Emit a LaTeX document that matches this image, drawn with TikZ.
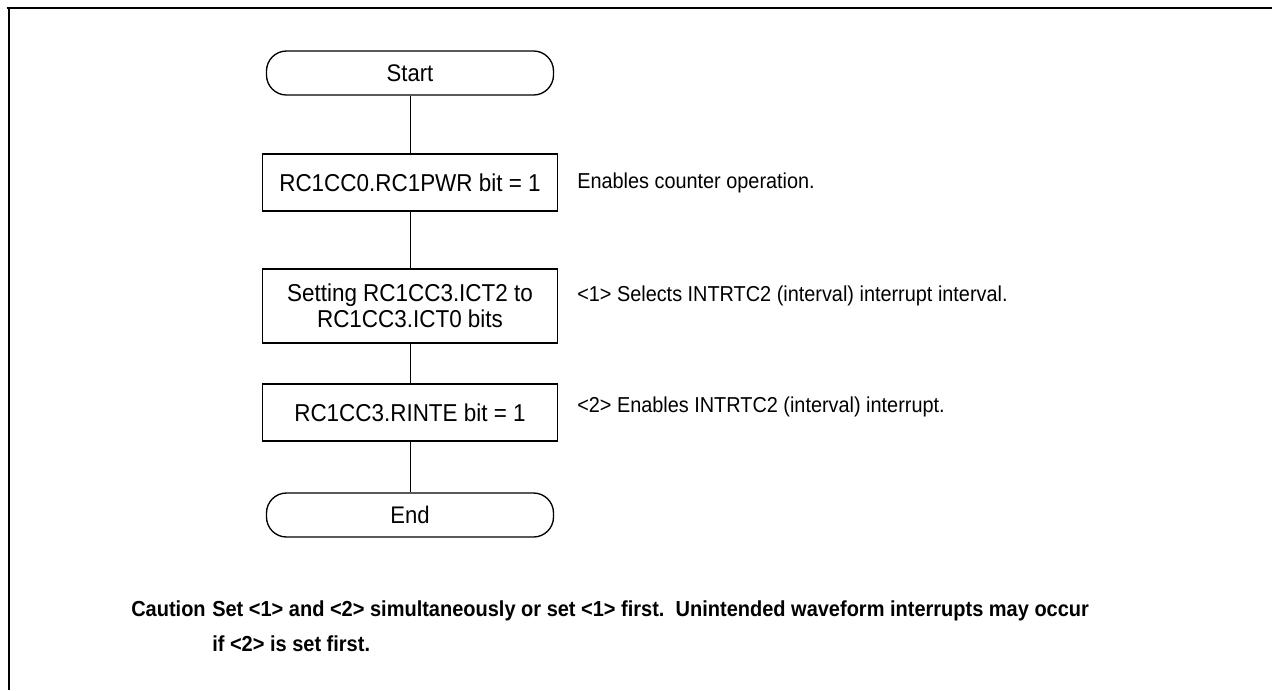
\documentclass[tikz,border=0pt]{standalone}
\usepackage{fontspec}
\setmainfont{Liberation Sans}[FakeStretch=0.92]
\begin{document}
\begin{tikzpicture}[x=0.75pt,y=-0.75pt,
  every node/.style={font=\fontsize{16.2}{19}\selectfont},
  term/.style={draw, line width=1pt, rounded corners=15pt, minimum width=215.25pt, minimum height=33pt, inner sep=0pt, font=\fontsize{18}{19}\selectfont},
  proc/.style={draw, line width=1pt, minimum width=221.25pt, minimum height=42.75pt, inner sep=0pt, align=center, font=\fontsize{18.3}{19.5}\selectfont},
  note/.style={anchor=west, inner sep=0pt},
  caut/.style={anchor=base west, inner sep=0pt, font=\fontsize{16.3}{19}\selectfont\bfseries},
  conn/.style={line width=0.6pt},
  frame/.style={line width=1.7pt}]
\useasboundingbox (0,0) rectangle (1281,690);
\coordinate (fl) at (6.5,8.3);
\coordinate (fr) at (1272,8.3);
\coordinate (fb) at (8.7,690);
\draw[frame] (fl) -- (fr);
\draw[frame] ([xshift=1.65pt]fl) -- (fb);

\node[term] (start) at (410,73) {Start};
\node[proc] (b1) at (410,182.5) {RC1CC0.RC1PWR bit = 1};
\node[proc, minimum height=55.5pt] (b2) at (410,306) {Setting RC1CC3.ICT2 to\\RC1CC3.ICT0 bits};
\node[proc] (b3) at (410,412.5) {RC1CC3.RINTE bit = 1};
\node[term] (end) at (410,515) {End};

\draw[conn] (start) -- (b1);
\draw[conn] (b1) -- (b2);
\draw[conn] (b2) -- (b3);
\draw[conn] (b3) -- (end);

\node[note] (n1) at (577,182.5) {Enables counter operation.};
\node[note] (n2) at (577,296) {<1> Selects INTRTC2 (interval) interrupt interval.};
\node[note] (n3) at (577,407) {<2> Enables INTRTC2 (interval) interrupt.};

\node[caut] (cau) at (131,616) {Caution};
\node[caut] (c1) at (212,616) {Set <1> and <2> simultaneously or set <1> first.~~Unintended waveform interrupts may occur};
\node[caut] (c2) at (212,651) {if <2> is set first.};
\end{tikzpicture}
\end{document}
